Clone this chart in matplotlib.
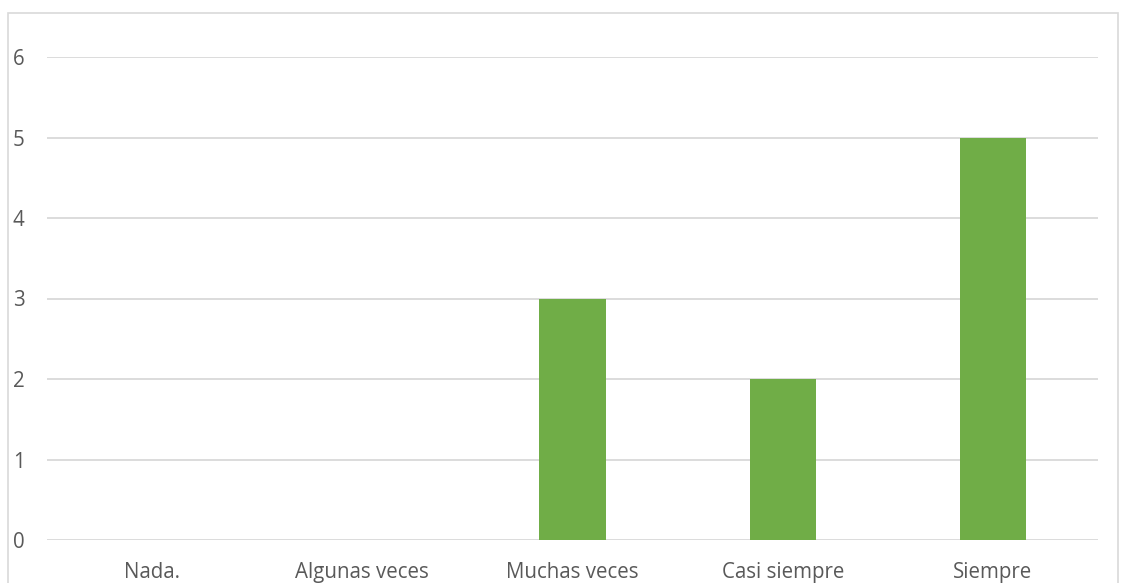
import matplotlib.pyplot as plt
from matplotlib.patches import Rectangle

categorias = ["Nada.", "Algunas veces", "Muchas veces", "Casi siempre", "Siempre"]
valores = [0, 0, 3, 2, 5]

plt.rcParams["font.family"] = ["Open Sans", "DejaVu Sans"]

W, H = 1127, 583
fig = plt.figure(figsize=(W / 100, H / 100), dpi=100)
ax = fig.add_axes([47 / W, 1 - 540 / H, (1098 - 47) / W, (540 - 57) / H])

x = range(len(categorias))
ax.bar(x, valores, width=0.315, color="#70ad47", zorder=3)

ax.set_xlim(-0.5, len(categorias) - 0.5)
ax.set_ylim(0, 6)
ax.set_yticks(range(0, 7))
ax.set_xticks(list(x))
ax.set_xticklabels(categorias)
ax.grid(axis="y", color="#d9d9d9", linewidth=1.3, zorder=0)
ax.tick_params(length=0, colors="#595959", labelsize=14.8)
ax.tick_params(axis="y", pad=24.5)
ax.tick_params(axis="x", pad=16)
for lbl in ax.get_yticklabels():
    lbl.set_horizontalalignment("left")
for s in ax.spines.values():
    s.set_visible(False)

# marco del gráfico
fig.patches.append(Rectangle((8 / W, -0.05), (1118 - 8) / W, 1 - 13 / H + 0.05,
                             transform=fig.transFigure, fill=False,
                             edgecolor="#d9d9d9", linewidth=1.2))

fig.savefig("out.png", dpi=100)
